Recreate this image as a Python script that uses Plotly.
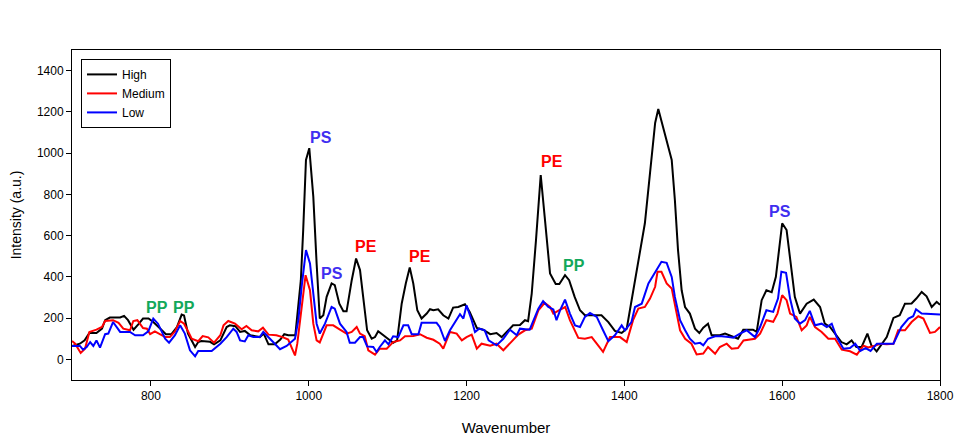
import plotly.graph_objects as go

# ---- data ----
high_x = [700,710,716,722,731,738,742,748,761,766,771,778,784,790,797,803,811,819,826,833,839,842,847,853,856,860,864,875,880,888,896,900,907,913,919,926,932,938,943,949,957,964,969,974,983,985,990,993,996.5,1000.7,1005.8,1010,1014,1018.5,1022.7,1029,1033,1038.8,1043.9,1048,1054.5,1060,1065,1069,1074,1079.8,1084,1088,1094.5,1101,1107,1112,1117.8,1123,1128,1132.5,1137.6,1143,1149.5,1153.7,1158,1164,1170.5,1177,1183,1189.5,1198,1204,1213,1221,1230,1238,1244.5,1253,1259,1267.7,1274,1278,1282.6,1288,1294,1299,1305.8,1313,1317.6,1324.8,1330,1337,1343.8,1350,1360.6,1371,1379.7,1388,1396.6,1403,1407,1413.5,1422,1426,1432.5,1439,1443,1449,1455.7,1460,1464,1468,1472.6,1476.9,1483,1489.5,1495,1500,1506,1510.6,1521,1527.6,1536,1544,1550.7,1563,1567.7,1574,1580,1586.7,1592,1597,1600,1605.6,1610,1616,1622.6,1631,1640,1648,1654,1660.6,1667,1675,1681.7,1688,1694,1700.7,1708,1713,1719.7,1726,1732.5,1741,1749,1755.6,1764,1770,1776.8,1783,1789.5,1795.8,1800]
high_y = [65,76,92,128,128,149,190,203,203,211,190,144,170,198,198,181,152,122,122,157,217,213,125,76,60,84,89,85,73,92,157,165,161,133,138,117,112,108,125,73,73,96,122,117,117,190,384,627,967,1024,789,465,198,214,303,368,360,270,233,233,384,489,433,303,141,100,108,136,117,100,80,92,270,368,446,368,238,198,222,243,238,243,214,198,251,254,267,230,152,144,122,128,108,141,165,167,190,185,319,578,894,692,417,365,365,408,384,303,238,214,214,214,181,138,128,149,238,384,554,660,903,1146,1214,1129,1040,967,773,530,335,254,222,149,128,154,173,117,117,125,112,100,144,144,133,287,335,326,400,578,660,627,481,303,222,270,290,254,173,157,125,84,73,92,60,60,125,68,39,76,108,201,214,270,271,295,327,306,254,279,265]

med_x = [700,704,711,716.5,722,731,738,742,752,759,765,773.5,777.7,782.8,786,790,795,799,805,811.5,818,824,830.5,837,842,847,851.7,860,865.6,872.7,880,888,892,898,906.6,915,921,927.7,936,942,949,959,967,974,978,982.6,985.5,990,996,1001.6,1005.8,1010,1014,1022.7,1031,1039.6,1048,1054.5,1060.8,1065,1071,1075.5,1084,1090,1098.8,1107,1115.7,1122,1132.5,1141,1149.5,1158,1166,1170.5,1175,1179,1187.5,1194,1200,1206.5,1213,1219,1230,1238,1246.6,1255,1265.6,1274,1282.6,1291,1299,1305.8,1310,1317,1325,1331,1337.5,1341.6,1350,1358.6,1365,1373,1381.8,1394.5,1403,1411,1417.7,1426,1432.5,1439,1442,1447,1453.6,1460,1465.5,1470.6,1477,1485,1491.6,1500,1506,1515,1521,1529.7,1536,1544,1551,1559,1565.5,1572,1580,1588.6,1594,1600,1605.6,1610,1618,1624.7,1631,1635,1641.6,1650,1658.5,1667,1675.5,1686,1694.6,1703,1709,1717.5,1724,1732.5,1741,1747,1755.6,1764,1772.5,1779,1787.3,1793.6,1800]
med_y = [89,76,31,52,133,144,157,186,190,177,149,141,186,190,173,152,149,122,136,122,108,108,136,186,173,136,100,88,113,107,81,117,165,186,173,146,162,141,136,154,120,117,108,96,60,19,76,222,408,335,173,92,82,165,165,144,125,133,157,125,112,44,23,52,52,84,92,112,113,122,105,95,76,52,92,133,125,92,108,120,52,76,66,76,44,76,120,141,149,238,274,254,222,238,254,190,133,104,100,108,76,36,108,108,84,190,246,254,295,352,425,425,368,344,238,141,100,76,24,28,60,27,60,76,52,55,92,95,100,125,190,182,222,311,287,222,206,141,165,206,157,133,100,100,47,39,23,66,58,66,76,73,76,141,141,181,209,198,128,133,157]

low_x = [700,710,714,718.6,723,727,731,735.5,742,746,752,761,773.5,780,790,796.7,803,809,818,823,830.5,837,843,849.5,856,860,877,888,896,904.4,908.6,913,919,923.5,929.8,938,942.4,948.8,957,963.6,972,982.6,986.8,991,996.5,1001.6,1005.8,1010,1014,1020.6,1029,1033,1039.6,1048,1052,1058.6,1065,1069,1074,1081.8,1086,1090,1096.6,1101,1107,1113.5,1120,1126,1130.5,1139,1143,1162,1166,1172.7,1179,1185,1191.7,1196,1200,1206.5,1210.7,1216,1223,1228,1238,1246.6,1255,1263.6,1267.7,1280,1291,1297,1303.6,1310,1314,1318.5,1324.8,1331,1337.5,1343.8,1350,1356.5,1365,1373,1379.7,1388,1396.6,1400.8,1409,1413.5,1422,1430.5,1439,1447,1453.6,1460,1464,1470.6,1477,1483,1489.5,1496,1500,1506,1515,1523.4,1532,1538,1546.5,1555,1565.5,1572,1580,1588.6,1594.7,1599,1604.9,1610,1616,1622.6,1629,1635,1641.6,1650,1656.5,1662.8,1669,1677.6,1686,1692.6,1699,1705.7,1712,1720,1728.5,1741,1751,1760,1766,1769.6,1776.8,1800]
low_y = [65,65,47,60,84,65,92,57,122,125,181,133,133,117,117,136,198,173,100,81,117,165,125,44,15,41,41,76,108,149,133,92,87,117,108,108,133,110,76,49,65,100,190,352,530,465,303,173,125,173,254,246,173,133,81,81,108,108,63,60,36,60,92,73,112,108,165,165,122,122,177,177,157,89,141,181,219,198,262,190,133,149,141,92,68,100,144,117,149,144,246,282,254,242,190,238,290,222,165,157,206,225,206,141,88,117,165,141,181,254,270,368,425,473,468,400,303,190,141,100,76,80,68,100,112,112,108,105,125,141,108,157,238,230,295,425,420,295,198,173,190,235,165,173,157,173,108,52,55,76,41,55,41,76,76,76,157,198,209,243,222,217]

series_names = ["High", "Medium", "Low"]
series_colors = ["#000000", "#ff0000", "#0000ff"]

label_text = ["PP", "PP", "PS", "PS", "PE", "PE", "PE", "PP", "PS"]
label_x = [808, 842, 1016, 1029, 1073, 1141, 1308, 1336, 1597]
label_y = [253, 253, 1074, 418, 549, 501, 958, 457, 715]
label_color = {"PP": "#12a85a", "PS": "#3f2ff0", "PE": "#ff0000"}

x_ticks = [800, 1000, 1200, 1400, 1600, 1800]
y_ticks = [0, 200, 400, 600, 800, 1000, 1200, 1400]

FONT = "Liberation Sans, Arial, sans-serif"

fig = go.Figure()
for name, xs, ys, col in zip(series_names, [high_x, med_x, low_x], [high_y, med_y, low_y], series_colors):
    fig.add_trace(go.Scatter(x=xs, y=ys, mode="lines", name=name,
                             line=dict(color=col, width=2)))

for t, x, y in zip(label_text, label_x, label_y):
    fig.add_annotation(x=x, y=y, text="<b>%s</b>" % t, showarrow=False,
                       font=dict(family=FONT, size=16, color=label_color[t]))

# the page body adds an 8px offset, so the figure is 8px smaller and margins shifted
fig.update_layout(
    width=959, height=430,
    margin=dict(l=64, r=27, t=42, b=58, autoexpand=False),
    paper_bgcolor="white", plot_bgcolor="white",
    font=dict(family=FONT, size=12, color="#000000"),
    showlegend=True,
    legend=dict(x=0.0104, y=0.973, xanchor="left", yanchor="top",
                bordercolor="#000000", borderwidth=1, bgcolor="white",
                font=dict(family=FONT, size=12), tracegroupgap=0,
                itemwidth=30),
    xaxis=dict(range=[700, 1800], tickvals=x_ticks, ticks="outside", ticklen=5,
               tickcolor="#000", showline=True, linecolor="#000", linewidth=1,
               mirror=True, showgrid=False, zeroline=False, automargin=False,
               title=dict(text="Wavenumber", font=dict(size=15), standoff=20),
               tickfont=dict(size=12)),
    yaxis=dict(range=[-100, 1500], tickvals=y_ticks, ticks="outside", ticklen=5,
               tickcolor="#000", showline=True, linecolor="#000", linewidth=1,
               mirror=True, showgrid=False, zeroline=False, automargin=False,
               title=dict(text="Intensity (a.u.)", font=dict(size=14), standoff=12),
               tickfont=dict(size=12)),
)

fig.write_html("out.html")
